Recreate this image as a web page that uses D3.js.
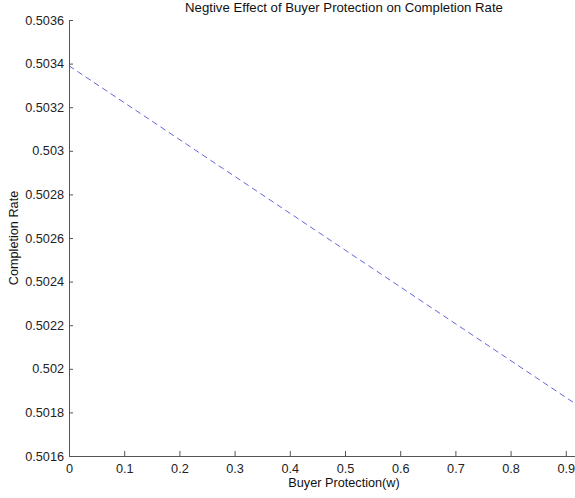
<!DOCTYPE html>
<html>
<head>
<meta charset="utf-8">
<script src="https://cdn.jsdelivr.net/npm/d3@7"></script>
<style>
  html, body { margin: 0; padding: 0; background: #fff; }
  svg { display: block; font-family: "Liberation Sans", Arial, Helvetica, sans-serif; }
</style>
</head>
<body>
<svg id="chart" width="575" height="498"></svg>
<script>
// Data
const protection = [0, 0.5, 1.0];
const completionRate = [0.50339, 0.502545, 0.50170];
const xTicks = [0, 0.1, 0.2, 0.3, 0.4, 0.5, 0.6, 0.7, 0.8, 0.9];
const yTicks = [0.5016, 0.5018, 0.502, 0.5022, 0.5024, 0.5026, 0.5028, 0.503, 0.5032, 0.5034, 0.5036];
const titleText = "Negtive Effect of Buyer Protection on Completion Rate";
const xLabel = "Buyer Protection(w)";
const yLabel = "Completion Rate";

const svg = d3.select("#chart");
const mLeft = 69, mRight = 621, mTop = 20, mBottom = 456;

const x = d3.scaleLinear().domain([0, 1]).range([mLeft, mRight]);
const y = d3.scaleLinear().domain([0.5016, 0.5036]).range([mBottom, mTop]);

const axisColor = "#555";
const fmt = d => String(+d.toFixed(4));
const fs = 12.7;

// X axis (ticks pointing inward)
const gx = svg.append("g").attr("transform", `translate(0,${mBottom})`)
  .call(d3.axisBottom(x).tickValues(xTicks).tickFormat(fmt).tickSizeInner(-5).tickSizeOuter(0).tickPadding(8));
gx.select(".domain").attr("stroke", axisColor);
gx.selectAll(".tick line").attr("stroke", axisColor);
gx.selectAll(".tick text").attr("font-size", fs).attr("fill", "#222")
  .attr("font-family", "Liberation Sans, Arial, sans-serif");

// Y axis
const gy = svg.append("g").attr("transform", `translate(${mLeft},0)`)
  .call(d3.axisLeft(y).tickValues(yTicks).tickFormat(fmt).tickSizeInner(-4).tickSizeOuter(0).tickPadding(5));
gy.select(".domain").attr("stroke", axisColor);
gy.selectAll(".tick line").attr("stroke", axisColor);
gy.selectAll(".tick text").attr("font-size", fs).attr("fill", "#222")
  .attr("font-family", "Liberation Sans, Arial, sans-serif");

// Line
const line = d3.line().x((d, i) => x(protection[i])).y(d => y(d));
svg.append("path")
  .datum(completionRate)
  .attr("d", line)
  .attr("fill", "none")
  .attr("stroke", "#5252d8")
  .attr("stroke-width", 0.9)
  .attr("stroke-dasharray", "6,4");

// Title
svg.append("text")
  .attr("x", (mLeft + mRight) / 2 - 1).attr("y", 12)
  .attr("text-anchor", "middle")
  .attr("font-size", 13.2).attr("fill", "#111")
  .text(titleText);

// X label
svg.append("text")
  .attr("x", (mLeft + mRight) / 2 - 1).attr("y", 487)
  .attr("text-anchor", "middle")
  .attr("font-size", fs).attr("fill", "#111")
  .text(xLabel);

// Y label
svg.append("text")
  .attr("transform", `translate(18,${(mTop + mBottom) / 2}) rotate(-90)`)
  .attr("text-anchor", "middle")
  .attr("font-size", fs).attr("fill", "#111")
  .text(yLabel);
</script>
</body>
</html>
